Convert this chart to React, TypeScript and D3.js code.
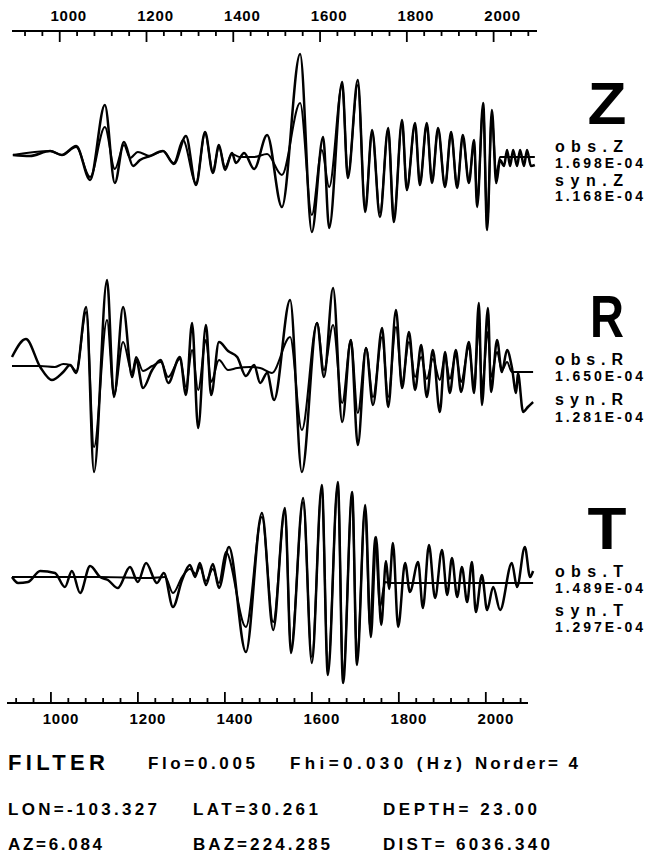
import React from "react";
import * as d3 from "d3";

// ---- time axis (seconds) ----
const majorTicks = [1000, 1200, 1400, 1600, 1800, 2000];
const minorTicks = [920, 960, 1040, 1080, 1120, 1160, 1240, 1280, 1320, 1360, 1440, 1480, 1520, 1560, 1640, 1680, 1720, 1760, 1840, 1880, 1920, 1960, 2040, 2080];
const tickLabels = ["1000", "1200", "1400", "1600", "1800", "2000"];

// ---- waveforms: [time (s), normalized amplitude] ----
const zObs: [number, number][] = [
  [892, 0], [931, -1], [978, 4], [1005, 0], [1038, 9], [1070, -25], [1104, 50], [1127, -28], [1148, 13], [1169, -11],
  [1185, -5], [1208, -1], [1238, 4], [1263, -9], [1291, 19], [1314, -30], [1335, 23], [1353, -18], [1367, 10], [1381, -15],
  [1397, 2], [1406, -8], [1425, 2], [1448, -14], [1478, 20], [1512, -52], [1554, 101], [1581, -77], [1607, 18], [1621, -73],
  [1651, 73], [1664, -23], [1687, 75], [1704, -57], [1720, 25], [1738, -62], [1757, 27], [1770, -67], [1789, 35], [1800, -35],
  [1819, 32], [1830, -30], [1846, 32], [1858, -28], [1872, 27], [1888, -32], [1902, 23], [1916, -33], [1929, 20], [1943, -28],
  [1955, 15], [1962, -52], [1976, 52], [1985, -75], [1996, 45], [2006, -28], [2015, -5], [2024, -11], [2031, 5], [2038, -11],
  [2045, 5], [2054, -11], [2061, 5], [2070, -11], [2077, 5], [2086, -11], [2095, -10],
];
const zSyn: [number, number][] = [
  [892, 0], [978, 4], [1005, 0], [1038, 8], [1070, -22], [1104, 28], [1127, -14], [1148, 10], [1162, -3], [1180, 3],
  [1208, -1], [1238, 4], [1263, -8], [1284, 15], [1314, -28], [1335, 21], [1353, -16], [1367, 8], [1381, -12], [1397, 1],
  [1415, -2], [1448, -2], [1478, 1], [1512, -20], [1554, 52], [1581, -60], [1604, 5], [1621, -32], [1651, 70], [1664, -20],
  [1687, 70], [1704, -52], [1720, 22], [1738, -58], [1757, 25], [1770, -62], [1789, 32], [1800, -33], [1819, 30], [1830, -28],
  [1846, 30], [1858, -26], [1872, 25], [1888, -30], [1902, 21], [1916, -31], [1929, 18], [1943, -26], [1955, 12], [1962, -48],
  [1976, 48], [1985, -70], [1996, 40], [2006, -20], [2015, -2], [2095, -2],
];
const rObs: [number, number][] = [
  [890, 10], [922, 28], [955, 0], [982, -13], [1008, -5], [1024, 2], [1038, -6], [1061, 60], [1079, -105], [1109, 87],
  [1125, -30], [1146, 60], [1167, -10], [1176, 7], [1192, -21], [1213, -3], [1233, 7], [1250, -16], [1277, 10], [1291, -28],
  [1305, 44], [1319, -61], [1337, 42], [1349, -28], [1367, 25], [1388, 16], [1409, 10], [1429, -9], [1448, 2], [1462, -16],
  [1478, -6], [1494, -33], [1531, 67], [1558, -105], [1593, 44], [1609, -10], [1630, 79], [1651, -55], [1671, 27], [1687, -78],
  [1706, 19], [1722, -38], [1743, 39], [1757, -40], [1775, 57], [1789, -21], [1805, 35], [1819, -23], [1833, 22], [1846, -30],
  [1860, 17], [1876, -45], [1888, 15], [1899, -26], [1913, 17], [1925, -25], [1943, 25], [1955, -26], [1966, 64], [1973, -38],
  [1987, 59], [1994, -25], [2008, 27], [2019, -5], [2031, 17], [2042, 0], [2052, -26], [2056, -6], [2068, -45], [2079, -40],
  [2091, -35],
];
const rSyn: [number, number][] = [
  [890, 1], [955, 1], [989, 0], [1008, 3], [1024, 2], [1038, -4], [1061, 55], [1079, -80], [1109, 47], [1125, -28],
  [1146, 25], [1167, -6], [1176, 10], [1192, -4], [1213, 1], [1233, 5], [1250, -10], [1277, 8], [1291, -20], [1305, 17],
  [1319, -23], [1337, 27], [1349, -15], [1367, 7], [1388, -3], [1409, -1], [1439, 0], [1462, -1], [1489, -6], [1531, 30],
  [1558, -63], [1593, 44], [1609, -3], [1630, 42], [1651, -36], [1671, 27], [1687, -46], [1706, 19], [1722, -30], [1743, 30],
  [1757, -30], [1775, 40], [1789, -15], [1805, 25], [1819, -10], [1833, 10], [1846, -12], [1860, 8], [1876, -13], [1888, 10],
  [1899, -12], [1913, 12], [1925, -15], [1943, 20], [1955, -20], [1966, 40], [1973, -20], [1987, 35], [1994, -10], [2008, 15],
  [2019, -3], [2031, 5], [2042, -5], [2091, -5],
];
const tObs: [number, number][] = [
  [890, 0], [904, -6], [927, -5], [955, 6], [989, 4], [1012, -10], [1028, 6], [1047, -16], [1070, 11], [1093, 0],
  [1111, -3], [1134, -11], [1162, 10], [1180, -5], [1199, 14], [1224, -6], [1240, 4], [1261, -30], [1282, -3], [1300, 12],
  [1312, 0], [1323, 14], [1337, -8], [1353, 13], [1367, -11], [1390, 30], [1429, -75], [1466, 64], [1492, -53], [1519, 69],
  [1533, -76], [1561, 79], [1581, -86], [1604, 92], [1618, -98], [1641, 95], [1653, -106], [1674, 85], [1685, -88], [1704, 72],
  [1717, -60], [1729, 40], [1741, -48], [1752, 16], [1759, -12], [1768, 34], [1780, -50], [1796, 14], [1807, -15], [1826, 15],
  [1837, -31], [1851, 32], [1865, -21], [1881, 27], [1893, -18], [1904, 19], [1916, -20], [1927, 10], [1939, -25], [1950, 15],
  [1959, -35], [1973, 2], [1985, -33], [1999, -10], [2015, -33], [2042, 14], [2054, -10], [2072, 30], [2084, 0], [2091, 6],
];
const tSyn: [number, number][] = [
  [890, 0], [1024, 0], [1093, 0], [1208, -1], [1243, 0], [1261, -16], [1282, 0], [1300, 8], [1314, 3], [1323, 10],
  [1337, -4], [1353, 8], [1367, -6], [1383, 25], [1429, -50], [1466, 60], [1492, -45], [1519, 65], [1533, -70], [1561, 75],
  [1581, -80], [1604, 88], [1618, -92], [1641, 92], [1653, -100], [1674, 82], [1685, -80], [1704, 68], [1715, -50], [1727, 40],
  [1738, -30], [1750, -5], [1761, -6], [2091, -6],
];

// ---- component labels ----
const components = ["Z", "R", "T"];
const obsPeaks = ["1.698E-04", "1.650E-04", "1.489E-04"];
const synPeaks = ["1.168E-04", "1.281E-04", "1.297E-04"];

// ---- event / filter info ----
const filterRow = ["Flo=0.005", "Fhi=0.030 (Hz)", "Norder= 4"];
const locationRow = ["LON=-103.327", "LAT=30.261", "DEPTH= 23.00"];
const geometryRow = ["AZ=6.084", "BAZ=224.285", "DIST= 6036.340"];

const FONT = "'Liberation Sans', Arial, Helvetica, sans-serif";

const panelLayout = [
  { base: 155, letterY: 124, letterW: 39, obsY: 152, obsValY: 168, synY: 186, synValY: 201 },
  { base: 367, letterY: 337, letterW: 34, obsY: 365, obsValY: 381, synY: 405, synValY: 422 },
  { base: 577, letterY: 549, letterW: 39, obsY: 577, obsValY: 593, synY: 616, synValY: 632 },
];

const series = [
  [zObs, zSyn],
  [rObs, rSyn],
  [tObs, tSyn],
];

export default function App() {
  const W = 647;
  const H = 855;
  const xTop = d3.scaleLinear().domain([890, 2100]).range([12, 537]);
  const xBottom = d3.scaleLinear().domain([899, 2097]).range([7, 528]);
  const topY = 31;
  const bottomY = 703;

  return (
    <svg
      width={W}
      height={H}
      style={{ position: "absolute", left: 0, top: 0, background: "#fff" }}
      fontFamily={FONT}
      fontWeight="bold"
    >
      <rect width={W} height={H} fill="#fff" />

      {/* top time axis */}
      <g>
        <line x1={xTop.range()[0]} x2={xTop.range()[1]} y1={topY} y2={topY} stroke="#000" strokeWidth={2.2} />
        {minorTicks.map((t) => (
          <line key={"tm" + t} x1={xTop(t)} x2={xTop(t)} y1={topY} y2={topY + 5} stroke="#000" strokeWidth={1.8} />
        ))}
        {majorTicks.map((t, i) => (
          <g key={"tM" + t}>
            <line x1={xTop(t)} x2={xTop(t)} y1={topY} y2={topY + 11} stroke="#000" strokeWidth={1.8} />
            <text x={xTop(t) + 9} y={topY - 10} fontSize={15} textAnchor="middle" letterSpacing={0.8}>
              {tickLabels[i]}
            </text>
          </g>
        ))}
      </g>

      {/* bottom time axis */}
      <g>
        <line x1={xBottom.range()[0]} x2={xBottom.range()[1]} y1={bottomY} y2={bottomY} stroke="#000" strokeWidth={2.2} />
        {minorTicks.map((t) => (
          <line key={"bm" + t} x1={xBottom(t)} x2={xBottom(t)} y1={bottomY} y2={bottomY - 5} stroke="#000" strokeWidth={1.8} />
        ))}
        {majorTicks.map((t, i) => (
          <g key={"bM" + t}>
            <line x1={xBottom(t)} x2={xBottom(t)} y1={bottomY} y2={bottomY - 11} stroke="#000" strokeWidth={1.8} />
            <text x={xBottom(t) + 10} y={bottomY + 21} fontSize={15} textAnchor="middle" letterSpacing={0.8}>
              {tickLabels[i]}
            </text>
          </g>
        ))}
      </g>

      {/* seismogram panels */}
      {components.map((c, i) => {
        const L = panelLayout[i];
        const y = d3.scaleLinear().domain([-100, 100]).range([L.base + 100, L.base - 100]);
        const line = d3
          .line<[number, number]>()
          .x((d) => xTop(d[0]))
          .y((d) => y(d[1]))
          .curve(d3.curveMonotoneX);
        const [obs, syn] = series[i];
        return (
          <g key={c}>
            <path d={line(syn) || ""} fill="none" stroke="#000" strokeWidth={2} strokeLinejoin="round" />
            <path d={line(obs) || ""} fill="none" stroke="#000" strokeWidth={2.5} strokeLinejoin="round" />
            <text
              x={607}
              y={L.letterY}
              fontSize={60}
              textAnchor="middle"
              textLength={L.letterW}
              lengthAdjust="spacingAndGlyphs"
            >
              {c}
            </text>
            <text x={555} y={L.obsY} fontSize={16} textLength={68} lengthAdjust="spacing">
              {"obs." + c}
            </text>
            <text x={555} y={L.obsValY} fontSize={14} textLength={88} lengthAdjust="spacing">
              {obsPeaks[i]}
            </text>
            <text x={555} y={L.synY} fontSize={16} textLength={68} lengthAdjust="spacing">
              {"syn." + c}
            </text>
            <text x={555} y={L.synValY} fontSize={14} textLength={88} lengthAdjust="spacing">
              {synPeaks[i]}
            </text>
          </g>
        );
      })}

      {/* filter and event parameters */}
      <g>
        <text x={8} y={770} fontSize={22} textLength={97} lengthAdjust="spacing">FILTER</text>
        <text x={148} y={769} fontSize={17} textLength={107} lengthAdjust="spacing">{filterRow[0]}</text>
        <text x={290} y={769} fontSize={17} textLength={172} lengthAdjust="spacing">{filterRow[1]}</text>
        <text x={475} y={769} fontSize={17} textLength={103} lengthAdjust="spacing">{filterRow[2]}</text>

        <text x={8} y={815} fontSize={17} textLength={149} lengthAdjust="spacing">{locationRow[0]}</text>
        <text x={193} y={815} fontSize={17} textLength={125} lengthAdjust="spacing">{locationRow[1]}</text>
        <text x={383} y={815} fontSize={17} textLength={154} lengthAdjust="spacing">{locationRow[2]}</text>

        <text x={8} y={850} fontSize={17} textLength={94} lengthAdjust="spacing">{geometryRow[0]}</text>
        <text x={193} y={850} fontSize={17} textLength={137} lengthAdjust="spacing">{geometryRow[1]}</text>
        <text x={383} y={850} fontSize={17} textLength={167} lengthAdjust="spacing">{geometryRow[2]}</text>
      </g>
    </svg>
  );
}
